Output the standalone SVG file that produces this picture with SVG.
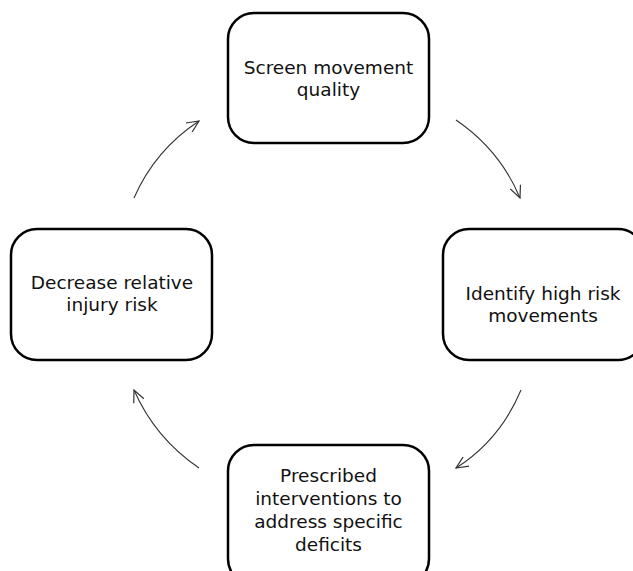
<svg xmlns="http://www.w3.org/2000/svg" width="633" height="571" viewBox="0 0 633 571">
<style>
.box{fill:#fff;stroke:#000;stroke-width:2.5}
.lbl{font-family:"DejaVu Sans","Liberation Sans",Arial,sans-serif;font-size:18.5px;fill:#111;text-anchor:middle}
.arc{fill:none;stroke:#333;stroke-width:1.1}
</style>
<defs>
<marker id="ah" viewBox="0 0 14 12" refX="13" refY="6" markerWidth="14" markerHeight="12" markerUnits="userSpaceOnUse" orient="auto">
<path d="M1,0.5 L13,6 L1,11.5" fill="none" stroke="#333" stroke-width="1.2"/>
</marker>
</defs>
<rect width="633" height="571" fill="#fff"/>
<g id="connectors">
<path class="arc" d="M456,120 Q500,150 520,198" marker-end="url(#ah)"/>
<path class="arc" d="M521,390 Q500,440 456,468" marker-end="url(#ah)"/>
<path class="arc" d="M199,468 Q155,438 134,390" marker-end="url(#ah)"/>
<path class="arc" d="M134,198 Q155,150 199,121" marker-end="url(#ah)"/>
</g>
<g id="node-screen">
<rect class="box" x="228" y="13" width="201" height="130" rx="26"/>
<text class="lbl" x="328.5" y="74">Screen movement</text>
<text class="lbl" x="328.5" y="96">quality</text>
</g>
<g id="node-identify">
<rect class="box" x="443" y="229" width="201" height="131" rx="26"/>
<text class="lbl" x="543" y="300">Identify high risk</text>
<text class="lbl" x="543" y="322">movements</text>
</g>
<g id="node-prescribed">
<rect class="box" x="228" y="445" width="201" height="140" rx="26"/>
<text class="lbl" x="328.5" y="482">Prescribed</text>
<text class="lbl" x="328.5" y="505">interventions to</text>
<text class="lbl" x="328.5" y="528">address specific</text>
<text class="lbl" x="328.5" y="551">deficits</text>
</g>
<g id="node-decrease">
<rect class="box" x="11" y="229" width="201" height="131" rx="26"/>
<text class="lbl" x="112" y="289">Decrease relative</text>
<text class="lbl" x="112" y="311">injury risk</text>
</g>
</svg>
